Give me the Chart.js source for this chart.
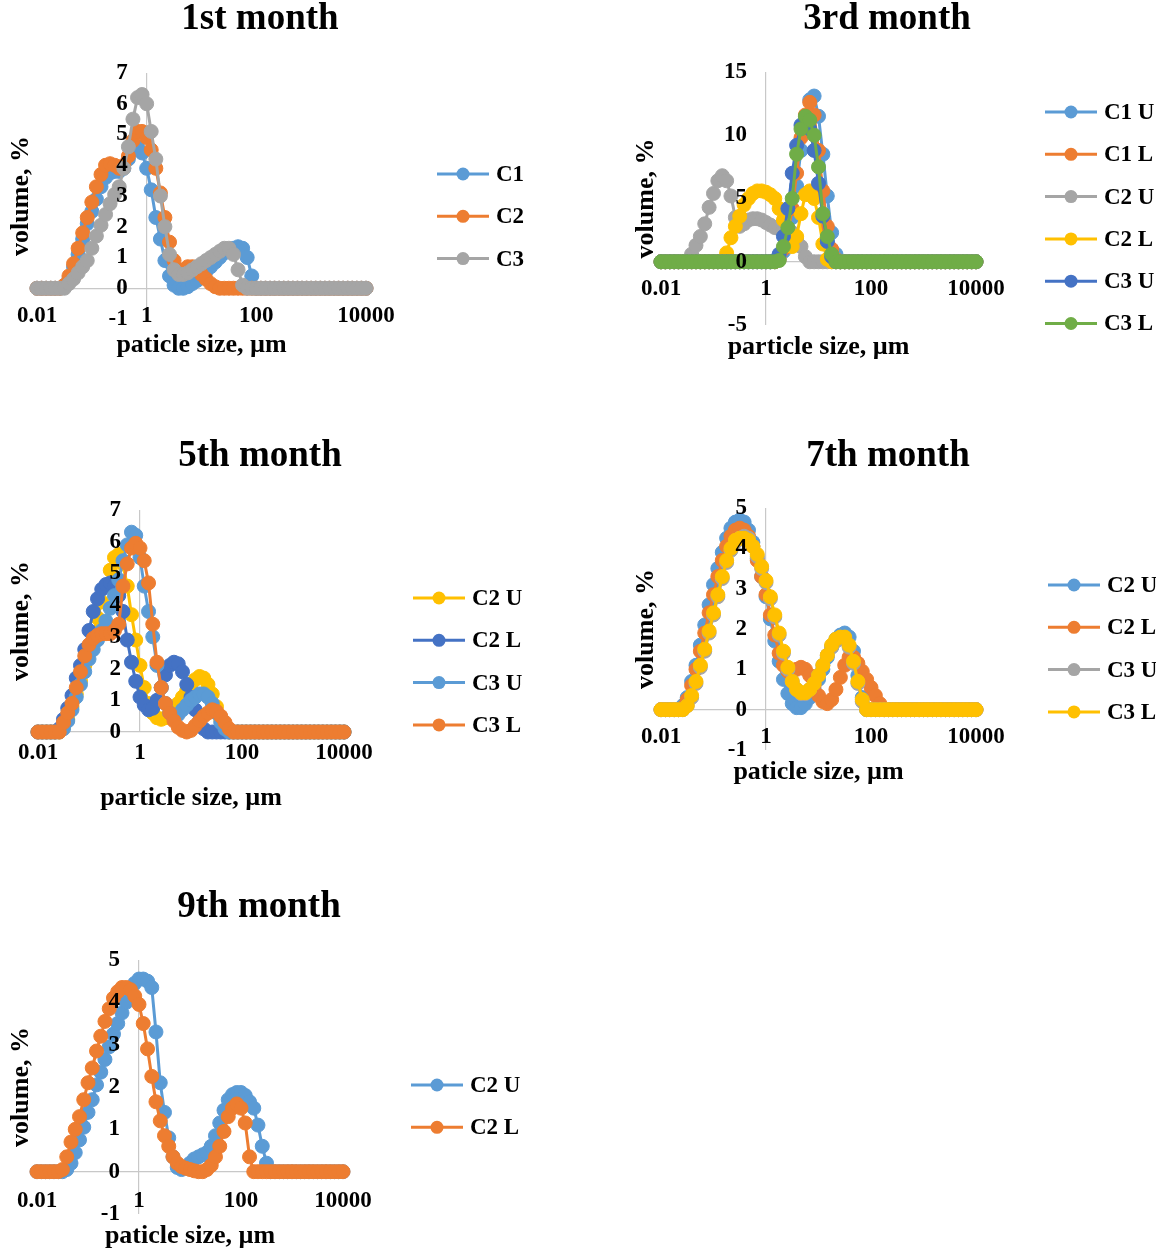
<!DOCTYPE html>
<html>
<head>
<meta charset="utf-8">
<title>Particle size distribution by month</title>
<script src="https://cdn.jsdelivr.net/npm/chart.js@4.4.0/dist/chart.umd.min.js"></script>
<style>
  body { margin: 0; background: #fff; }
  #page { position: relative; width: 1156px; height: 1252px; }
  #page canvas { position: absolute; }
</style>
</head>
<body>
<div id="page">
  <canvas id="m1"></canvas>
  <canvas id="m3"></canvas>
  <canvas id="m5"></canvas>
  <canvas id="m7"></canvas>
  <canvas id="m9"></canvas>
</div>
<script>
// size classes, µm (12 per decade)
const sizeClasses = [
  0.01, 0.0121, 0.0147, 0.0178, 0.0215, 0.0261, 0.0316, 0.0383, 0.0464, 0.0562, 0.0681, 0.0825,
  0.1, 0.121, 0.147, 0.178, 0.215, 0.261, 0.316, 0.383, 0.464, 0.562, 0.681, 0.825,
  1, 1.21, 1.47, 1.78, 2.15, 2.61, 3.16, 3.83, 4.64, 5.62, 6.81, 8.25,
  10, 12.1, 14.7, 17.8, 21.5, 26.1, 31.6, 38.3, 46.4, 56.2, 68.1, 82.5,
  100, 121, 147, 178, 215, 261, 316, 383, 464, 562, 681, 825,
  1000, 1210, 1470, 1780, 2150, 2610, 3160, 3830, 4640, 5620, 6810, 8250,
  10000
];
const xTickValues = [0.01, 1, 100, 10000];
const xTickLabels = ['0.01', '1', '100', '10000'];

// volume, % — 1st month
const m1C1 = [
  0, 0, 0, 0, 0, 0, 0.05, 0.3, 0.7, 1.1, 1.6, 2.1,
  2.5, 2.9, 3.3, 3.6, 3.75, 3.8, 3.8, 3.9, 4.2, 4.5, 4.6, 4.4,
  3.9, 3.2, 2.3, 1.6, 0.9, 0.4, 0.1, 0, 0, 0.05, 0.15, 0.25,
  0.4, 0.55, 0.7, 0.85, 1.0, 1.15, 1.25, 1.3, 1.35, 1.3, 1.0, 0.4,
  0, 0, 0, 0, 0, 0, 0, 0, 0, 0, 0, 0,
  0, 0, 0, 0, 0, 0, 0, 0, 0, 0, 0, 0,
  0
];
const m1C2 = [
  0, 0, 0, 0, 0, 0, 0.1, 0.4, 0.8, 1.3, 1.8, 2.3,
  2.8, 3.3, 3.7, 4.0, 4.05, 4.0, 3.9, 4.0, 4.3, 4.8, 5.1, 5.1,
  4.9, 4.5, 3.9, 3.1, 2.3, 1.5, 0.9, 0.6, 0.6, 0.7, 0.7, 0.6,
  0.45, 0.3, 0.15, 0.05, 0, 0, 0, 0, 0, 0, 0, 0,
  0, 0, 0, 0, 0, 0, 0, 0, 0, 0, 0, 0,
  0, 0, 0, 0, 0, 0, 0, 0, 0, 0, 0, 0,
  0
];
const m1C3 = [
  0, 0, 0, 0, 0, 0, 0, 0.15, 0.3, 0.5, 0.7, 0.9,
  1.3, 1.7, 2.05, 2.4, 2.75, 3.05, 3.3, 3.9, 4.6, 5.5, 6.2, 6.3,
  6.0, 5.1, 4.2, 3.0, 2.0, 1.1, 0.6, 0.45, 0.45, 0.5, 0.6, 0.7,
  0.8, 0.9, 1.0, 1.1, 1.2, 1.3, 1.3, 1.1, 0.6, 0.1, 0, 0,
  0, 0, 0, 0, 0, 0, 0, 0, 0, 0, 0, 0,
  0, 0, 0, 0, 0, 0, 0, 0, 0, 0, 0, 0,
  0
];

// 3rd month
const m3C1U = [
  0, 0, 0, 0, 0, 0, 0, 0, 0, 0, 0, 0,
  0, 0, 0, 0, 0, 0, 0, 0, 0, 0, 0, 0,
  0, 0, 0, 0.2, 0.8, 1.8, 3.5, 6.0, 8.8, 11.3, 12.8, 13.1,
  11.5, 8.5, 5.2, 2.3, 0.6, 0, 0, 0, 0, 0, 0, 0,
  0, 0, 0, 0, 0, 0, 0, 0, 0, 0, 0, 0,
  0, 0, 0, 0, 0, 0, 0, 0, 0, 0, 0, 0,
  0
];
const m3C1L = [
  0, 0, 0, 0, 0, 0, 0, 0, 0, 0, 0, 0,
  0, 0, 0, 0, 0, 0, 0, 0, 0, 0, 0, 0,
  0, 0, 0, 0.2, 1.0, 2.3, 4.2, 7.0, 9.8, 11.6, 12.6, 11.6,
  8.8, 5.6, 2.8, 1.0, 0.2, 0, 0, 0, 0, 0, 0, 0,
  0, 0, 0, 0, 0, 0, 0, 0, 0, 0, 0, 0,
  0, 0, 0, 0, 0, 0, 0, 0, 0, 0, 0, 0,
  0
];
const m3C2U = [
  0, 0, 0, 0, 0, 0, 0, 0.6, 1.3, 2.0, 3.0, 4.3,
  5.4, 6.4, 6.8, 6.4, 5.2, 3.5, 2.8, 3.0, 3.3, 3.4, 3.4, 3.3,
  3.1, 2.9, 2.7, 2.6, 2.5, 2.4, 2.3, 1.8, 1.2, 0.4, 0, 0,
  0, 0, 0, 0, 0, 0, 0, 0, 0, 0, 0, 0,
  0, 0, 0, 0, 0, 0, 0, 0, 0, 0, 0, 0,
  0, 0, 0, 0, 0, 0, 0, 0, 0, 0, 0, 0,
  0
];
const m3C2L = [
  0, 0, 0, 0, 0, 0, 0, 0, 0, 0, 0, 0,
  0, 0, 0, 0.7, 1.9, 2.8, 3.6, 4.5, 5.0, 5.4, 5.6, 5.6,
  5.5, 5.3, 5.0, 4.2, 3.3, 1.9, 1.2, 2.0, 3.8, 5.3, 5.6, 5.0,
  3.5, 1.4, 0.2, 0, 0, 0, 0, 0, 0, 0, 0, 0,
  0, 0, 0, 0, 0, 0, 0, 0, 0, 0, 0, 0,
  0, 0, 0, 0, 0, 0, 0, 0, 0, 0, 0, 0,
  0
];
const m3C3U = [
  0, 0, 0, 0, 0, 0, 0, 0, 0, 0, 0, 0,
  0, 0, 0, 0, 0, 0, 0, 0, 0, 0, 0, 0,
  0, 0, 0.1, 0.6, 2.0, 4.2, 7.0, 9.2, 10.8, 11.2, 10.5, 8.8,
  6.2, 3.6, 1.6, 0.4, 0, 0, 0, 0, 0, 0, 0, 0,
  0, 0, 0, 0, 0, 0, 0, 0, 0, 0, 0, 0,
  0, 0, 0, 0, 0, 0, 0, 0, 0, 0, 0, 0,
  0
];
const m3C3L = [
  0, 0, 0, 0, 0, 0, 0, 0, 0, 0, 0, 0,
  0, 0, 0, 0, 0, 0, 0, 0, 0, 0, 0, 0,
  0, 0, 0, 0.1, 1.2, 2.7, 5.0, 8.5, 10.5, 11.5, 11.2, 10.0,
  7.5, 3.8, 2.0, 0.6, 0, 0, 0, 0, 0, 0, 0, 0,
  0, 0, 0, 0, 0, 0, 0, 0, 0, 0, 0, 0,
  0, 0, 0, 0, 0, 0, 0, 0, 0, 0, 0, 0,
  0
];

// 5th month
const m5C2U = [
  0, 0, 0, 0, 0, 0, 0.15, 0.4, 0.8, 1.2, 1.6, 2.1,
  2.6, 3.1, 3.6, 4.1, 4.6, 5.1, 5.5, 5.6, 5.3, 4.6, 3.7, 2.9,
  2.1, 1.4, 0.9, 0.6, 0.45, 0.4, 0.45, 0.55, 0.7, 0.9, 1.1, 1.3,
  1.5, 1.65, 1.75, 1.7, 1.5, 1.2, 0.8, 0.4, 0.1, 0, 0, 0,
  0, 0, 0, 0, 0, 0, 0, 0, 0, 0, 0, 0,
  0, 0, 0, 0, 0, 0, 0, 0, 0, 0, 0, 0,
  0
];
const m5C2L = [
  0, 0, 0, 0, 0, 0.1, 0.4, 0.75, 1.15, 1.7, 2.1, 2.6,
  3.2, 3.8, 4.2, 4.5, 4.65, 4.7, 4.6, 4.3, 3.8, 2.9, 2.2, 1.6,
  1.1, 0.85, 0.7, 0.75, 1.0, 1.4, 1.8, 2.1, 2.2, 2.15, 1.9, 1.5,
  1.1, 0.7, 0.35, 0.1, 0, 0, 0, 0, 0, 0, 0, 0,
  0, 0, 0, 0, 0, 0, 0, 0, 0, 0, 0, 0,
  0, 0, 0, 0, 0, 0, 0, 0, 0, 0, 0, 0,
  0
];
const m5C3U = [
  0, 0, 0, 0, 0, 0, 0.1, 0.35, 0.7, 1.1, 1.5, 1.9,
  2.3, 2.6, 2.9, 3.2, 3.5, 3.9, 4.3, 4.8, 5.4, 5.9, 6.3, 6.2,
  5.5, 4.6, 3.8, 3.0, 2.1, 1.4, 0.9, 0.6, 0.5, 0.55, 0.7, 0.85,
  1.0, 1.1, 1.2, 1.2, 1.1, 0.9, 0.6, 0.3, 0.1, 0, 0, 0,
  0, 0, 0, 0, 0, 0, 0, 0, 0, 0, 0, 0,
  0, 0, 0, 0, 0, 0, 0, 0, 0, 0, 0, 0,
  0
];
const m5C3L = [
  0, 0, 0, 0, 0, 0, 0.3, 0.6, 0.9, 1.4, 1.9, 2.4,
  2.75, 2.95, 3.05, 3.1, 3.1, 3.1, 3.2, 3.4, 4.6, 5.3, 5.8, 5.95,
  5.8, 5.4, 4.7, 3.4, 2.2, 1.4, 0.9, 0.6, 0.35, 0.15, 0.05, 0,
  0.05, 0.2, 0.35, 0.5, 0.6, 0.7, 0.65, 0.5, 0.3, 0.1, 0, 0,
  0, 0, 0, 0, 0, 0, 0, 0, 0, 0, 0, 0,
  0, 0, 0, 0, 0, 0, 0, 0, 0, 0, 0, 0,
  0
];

// 7th month
const m7C2U = [
  0, 0, 0, 0, 0, 0.1, 0.3, 0.7, 1.1, 1.6, 2.1, 2.6,
  3.1, 3.5, 3.9, 4.25, 4.5, 4.65, 4.7, 4.65, 4.45, 4.15, 3.75, 3.3,
  2.8, 2.25, 1.7, 1.2, 0.75, 0.4, 0.15, 0.05, 0.05, 0.15, 0.3, 0.5,
  0.75, 1.0, 1.3, 1.55, 1.75, 1.85, 1.9, 1.8, 1.45, 0.85, 0.3, 0,
  0, 0, 0, 0, 0, 0, 0, 0, 0, 0, 0, 0,
  0, 0, 0, 0, 0, 0, 0, 0, 0, 0, 0, 0,
  0
];
const m7C2L = [
  0, 0, 0, 0, 0, 0.05, 0.25, 0.6, 1.0, 1.45, 1.9, 2.4,
  2.85, 3.3, 3.7, 4.05, 4.3, 4.45, 4.5, 4.45, 4.3, 4.05, 3.7, 3.3,
  2.85, 2.35, 1.85, 1.4, 1.1, 0.95, 0.95, 1.0, 1.05, 1.0, 0.85, 0.6,
  0.35, 0.2, 0.15, 0.25, 0.5, 0.8, 1.1, 1.3, 1.3, 1.15, 0.95, 0.75,
  0.55, 0.35, 0.15, 0, 0, 0, 0, 0, 0, 0, 0, 0,
  0, 0, 0, 0, 0, 0, 0, 0, 0, 0, 0, 0,
  0
];
const m7C3U = [
  0, 0, 0, 0, 0, 0, 0.1, 0.3, 0.65, 1.05, 1.45, 1.9,
  2.35, 2.8, 3.25, 3.65, 3.95, 4.15, 4.25, 4.3, 4.25, 4.05, 3.8, 3.5,
  3.15, 2.75, 2.3, 1.85, 1.4, 1.0, 0.7, 0.5, 0.4, 0.4, 0.5, 0.65,
  0.85, 1.1, 1.35, 1.55, 1.7, 1.75, 1.75, 1.55, 1.15, 0.65, 0.2, 0,
  0, 0, 0, 0, 0, 0, 0, 0, 0, 0, 0, 0,
  0, 0, 0, 0, 0, 0, 0, 0, 0, 0, 0, 0,
  0
];
const m7C3L = [
  0, 0, 0, 0, 0, 0, 0.1, 0.35, 0.7, 1.1, 1.5, 1.95,
  2.4, 2.85, 3.3, 3.7, 4.0, 4.2, 4.25, 4.25, 4.2, 4.05, 3.85, 3.55,
  3.2, 2.8, 2.35, 1.9, 1.45, 1.05, 0.7, 0.5, 0.42, 0.42, 0.5, 0.65,
  0.85, 1.1, 1.35, 1.6, 1.75, 1.8, 1.8, 1.6, 1.2, 0.7, 0.25, 0,
  0, 0, 0, 0, 0, 0, 0, 0, 0, 0, 0, 0,
  0, 0, 0, 0, 0, 0, 0, 0, 0, 0, 0, 0,
  0
];

// 9th month
const m9C2U = [
  0, 0, 0, 0, 0, 0, 0, 0.05, 0.2, 0.45, 0.75, 1.05,
  1.4, 1.7, 2.05, 2.35, 2.65, 2.95, 3.25, 3.5, 3.75, 4.0, 4.25, 4.45,
  4.55, 4.55, 4.5, 4.35, 3.3, 2.1, 1.4, 0.8, 0.35, 0.1, 0.05, 0.1,
  0.2, 0.3, 0.35, 0.4, 0.45, 0.6, 0.85, 1.15, 1.45, 1.7, 1.82, 1.87,
  1.87, 1.8, 1.65, 1.5, 1.1, 0.6, 0.2, 0, 0, 0, 0, 0,
  0, 0, 0, 0, 0, 0, 0, 0, 0, 0, 0, 0,
  0
];
const m9C2L = [
  0, 0, 0, 0, 0, 0, 0.05, 0.35, 0.7, 1.0, 1.3, 1.7,
  2.1, 2.45, 2.85, 3.2, 3.55, 3.85, 4.1, 4.25, 4.35, 4.35, 4.3, 4.15,
  3.95, 3.5, 2.9, 2.25, 1.65, 1.2, 0.85, 0.6, 0.35, 0.2, 0.12, 0.08,
  0.05, 0.02, 0, 0, 0.05, 0.15, 0.35, 0.6, 0.95, 1.3, 1.5, 1.6,
  1.5, 1.15, 0.35, 0, 0, 0, 0, 0, 0, 0, 0, 0,
  0, 0, 0, 0, 0, 0, 0, 0, 0, 0, 0, 0,
  0
];

const BLUE = '#5B9BD5';
const ORANGE = '#ED7D31';
const GREY = '#A5A5A5';
const YELLOW = '#FFC000';
const DARK_BLUE = '#4472C4';
const GREEN = '#70AD47';
const AXIS_GREY = '#C8C8C8';
const SERIF = "'Liberation Serif', 'Times New Roman', serif";

// page layout of each panel (all coordinates in page pixels)
const panels = [
  {
    id: 'm1', box: [0, 0, 578, 380], area: { left: 37, top: 73, right: 366, bottom: 319 },
    yMin: -1, yMax: 7, yStep: 1, xLabelPad: 14,
    title: '1st month', titleX: 260, titleY: 19,
    xTitle: 'paticle size, µm', xTitleY: 345, yTitleX: 21,
    legendX: 437, legendY: 174,
    series: [
      { label: 'C1', color: BLUE, values: m1C1 },
      { label: 'C2', color: ORANGE, values: m1C2 },
      { label: 'C3', color: GREY, values: m1C3 }
    ]
  },
  {
    id: 'm3', box: [578, 0, 578, 380], area: { left: 661, top: 72, right: 976, bottom: 325 },
    yMin: -5, yMax: 15, yStep: 5, xLabelPad: 14,
    title: '3rd month', titleX: 887, titleY: 19,
    xTitle: 'particle size, µm', xTitleY: 347, yTitleX: 646,
    legendX: 1045, legendY: 112,
    series: [
      { label: 'C1 U', color: BLUE, values: m3C1U },
      { label: 'C1 L', color: ORANGE, values: m3C1L },
      { label: 'C2 U', color: GREY, values: m3C2U },
      { label: 'C2 L', color: YELLOW, values: m3C2L },
      { label: 'C3 U', color: DARK_BLUE, values: m3C3U },
      { label: 'C3 L', color: GREEN, values: m3C3L }
    ]
  },
  {
    id: 'm5', box: [0, 430, 578, 400], area: { left: 38, top: 510, right: 344, bottom: 732 },
    yMin: 0, yMax: 7, yStep: 1, xLabelPad: 7,
    title: '5th month', titleX: 260, titleY: 456,
    xTitle: 'particle size, µm', xTitleY: 798, yTitleX: 21,
    legendX: 413, legendY: 598,
    series: [
      { label: 'C2 U', color: YELLOW, values: m5C2U },
      { label: 'C2 L', color: DARK_BLUE, values: m5C2L },
      { label: 'C3 U', color: BLUE, values: m5C3U },
      { label: 'C3 L', color: ORANGE, values: m5C3L }
    ]
  },
  {
    id: 'm7', box: [578, 430, 578, 400], area: { left: 661, top: 508, right: 976, bottom: 750 },
    yMin: -1, yMax: 5, yStep: 1, xLabelPad: 14,
    title: '7th month', titleX: 888, titleY: 456,
    xTitle: 'paticle size, µm', xTitleY: 772, yTitleX: 646,
    legendX: 1048, legendY: 585,
    series: [
      { label: 'C2 U', color: BLUE, values: m7C2U },
      { label: 'C2 L', color: ORANGE, values: m7C2L },
      { label: 'C3 U', color: GREY, values: m7C3U },
      { label: 'C3 L', color: YELLOW, values: m7C3L }
    ]
  },
  {
    id: 'm9', box: [0, 870, 578, 382], area: { left: 37, top: 960, right: 343, bottom: 1214 },
    yMin: -1, yMax: 5, yStep: 1, xLabelPad: 16,
    title: '9th month', titleX: 259, titleY: 907,
    xTitle: 'paticle size, µm', xTitleY: 1236, yTitleX: 21,
    legendX: 411, legendY: 1085,
    series: [
      { label: 'C2 U', color: BLUE, values: m9C2U },
      { label: 'C2 L', color: ORANGE, values: m9C2L }
    ]
  }
];

// titles, axis titles and the line-and-marker legend
function panelTextPlugin(p) {
  return {
    id: 'panelText',
    afterDraw(chart) {
      const ctx = chart.ctx;
      const ox = p.box[0], oy = p.box[1];
      const area = chart.chartArea;
      ctx.save();
      ctx.fillStyle = '#000';
      ctx.textAlign = 'center';
      ctx.textBaseline = 'middle';

      ctx.font = 'bold 37px ' + SERIF;
      ctx.fillText(p.title, p.titleX - ox, p.titleY - oy);

      ctx.font = 'bold 26px ' + SERIF;
      ctx.fillText(p.xTitle, (area.left + area.right) / 2, p.xTitleY - oy);

      ctx.save();
      ctx.translate(p.yTitleX - ox, (area.top + area.bottom) / 2);
      ctx.rotate(-Math.PI / 2);
      ctx.fillText('volume, %', 0, 0);
      ctx.restore();

      ctx.font = 'bold 23px ' + SERIF;
      ctx.textAlign = 'left';
      p.series.forEach((s, i) => {
        const x = p.legendX - ox;
        const y = p.legendY - oy + i * 42.3;
        ctx.strokeStyle = s.color;
        ctx.lineWidth = 3;
        ctx.beginPath();
        ctx.moveTo(x, y);
        ctx.lineTo(x + 52, y);
        ctx.stroke();
        ctx.fillStyle = s.color;
        ctx.beginPath();
        ctx.arc(x + 26, y, 6.5, 0, Math.PI * 2);
        ctx.fill();
        ctx.fillStyle = '#000';
        ctx.fillText(s.label, x + 59, y + 1);
      });
      ctx.restore();
    }
  };
}

function buildPanel(p) {
  const [bx, by, bw, bh] = p.box;
  const canvas = document.getElementById(p.id);
  canvas.width = bw;
  canvas.height = bh;
  canvas.style.left = bx + 'px';
  canvas.style.top = by + 'px';

  // y tick labels end a little left of the x = 1 axis line
  const perDecade = (p.area.right - p.area.left) / 6;
  const yLabelAnchor = Math.pow(10, -19 / perDecade);
  const tickFont = { family: SERIF, size: 23, weight: 'bold' };

  return new Chart(canvas.getContext('2d'), {
    type: 'line',
    data: {
      datasets: p.series.map((s, i) => ({
        label: s.label,
        data: s.values.map((v, k) => ({ x: sizeClasses[k], y: v })),
        borderColor: s.color,
        backgroundColor: s.color,
        pointBackgroundColor: s.color,
        pointBorderColor: s.color,
        borderWidth: 3,
        pointRadius: 7,
        pointBorderWidth: 1,
        pointHoverRadius: 7,
        tension: 0,
        clip: false,
        order: -i
      }))
    },
    options: {
      responsive: false,
      animation: false,
      events: [],
      layout: {
        padding: {
          left: p.area.left - bx,
          top: p.area.top - by,
          right: bx + bw - p.area.right,
          bottom: by + bh - p.area.bottom
        }
      },
      plugins: {
        legend: { display: false },
        title: { display: false },
        tooltip: { enabled: false }
      },
      scales: {
        x: {
          type: 'logarithmic',
          position: { y: 0 },
          min: 0.01,
          max: 10000,
          afterBuildTicks: (scale) => {
            scale.ticks = xTickValues.map(v => ({ value: v }));
          },
          ticks: {
            callback: (value, index) => xTickLabels[index],
            font: tickFont,
            color: '#000',
            padding: p.xLabelPad,
            autoSkip: false,
            maxRotation: 0
          },
          grid: {
            drawTicks: false,
            lineWidth: 1.2,
            color: (ctx) => (ctx.tick && ctx.tick.value === 1 ? AXIS_GREY : 'rgba(0,0,0,0)')
          },
          border: { display: true, color: AXIS_GREY, width: 1.2 }
        },
        y: {
          type: 'linear',
          position: { x: yLabelAnchor },
          min: p.yMin,
          max: p.yMax,
          // labels sit above the curves
          ticks: { stepSize: p.yStep, font: tickFont, color: '#000', padding: 0, autoSkip: false, z: 1 },
          grid: { display: false, drawTicks: false },
          border: { display: false }
        }
      }
    },
    plugins: [panelTextPlugin(p)]
  });
}

panels.forEach(buildPanel);
</script>
</body>
</html>
